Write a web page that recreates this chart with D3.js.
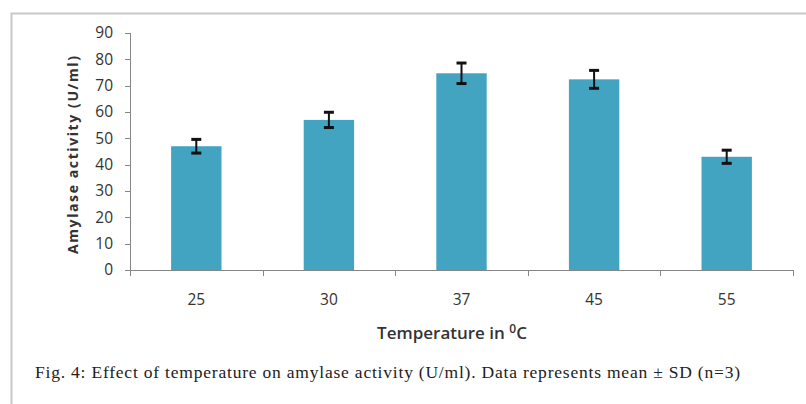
<!DOCTYPE html>
<html>
<head>
<meta charset="utf-8">
<style>
body{
  margin: 0;
  background-color: white;
}
.axis path, .axis line{
  stroke: #868686;
  shape-rendering: crispEdges;
}
.axis text{
  font-family: "Open Sans", "DejaVu Sans", sans-serif;
  font-size: 15.5px;
  fill: #333;
}
</style>
</head>
<body>
<script src="https://cdn.jsdelivr.net/npm/d3@7/dist/d3.min.js"></script>
<script>
  var WIDTH = 806;
  var HEIGHT = 404;

  var categories = ["25", "30", "37", "45", "55"];
  var means = [47, 57, 74.7, 72.4, 43];
  var sds = [2.6, 2.9, 3.9, 3.4, 2.5];
  var yTicks = [0, 10, 20, 30, 40, 50, 60, 70, 80, 90];

  var data = categories.map((c, i) => ({cat: c, mean: means[i], sd: sds[i]}));

  var xScale = d3.scaleBand()
    .domain(categories)
    .range([130, 793])
    .paddingInner(0.62)
    .paddingOuter(0.31);

  var yScale = d3.scaleLinear()
    .domain([0, 90])
    .range([270, 33]);

  var svg = d3.select("body").append("svg")
    .attr("width", WIDTH)
    .attr("height", HEIGHT);

  // frame
  svg.append("path")
    .attr("d", "M11.5,404 V13.5 H806")
    .attr("fill", "none")
    .attr("stroke", "#c8c8c8")
    .attr("stroke-width", 2);

  // y axis
  svg.append("g")
    .attr("class", "axis")
    .attr("transform", "translate(130,0)")
    .call(d3.axisLeft(yScale).tickValues(yTicks).tickSize(5).tickSizeOuter(5).tickPadding(12));

  // x axis with ticks at category boundaries
  var step = xScale.step();
  var bounds = d3.range(categories.length + 1).map(i => 130 + i * step);
  var xAxis = svg.append("g")
    .attr("class", "axis");
  xAxis.append("line")
    .attr("x1", 130).attr("x2", 793)
    .attr("y1", yScale(0) + 0.5).attr("y2", yScale(0) + 0.5);
  xAxis.selectAll("line.tick")
    .data(bounds)
    .enter()
    .append("line")
      .attr("class", "tick")
      .attr("x1", d => Math.round(d) + 0.5).attr("x2", d => Math.round(d) + 0.5)
      .attr("y1", yScale(0)).attr("y2", yScale(0) + 6);
  xAxis.selectAll("text")
    .data(categories)
    .enter()
    .append("text")
      .attr("x", d => xScale(d) + xScale.bandwidth() / 2)
      .attr("y", 305)
      .attr("text-anchor", "middle")
      .text(d => d);

  // bars
  svg.selectAll("rect.bar")
    .data(data)
    .enter()
    .append("rect")
      .attr("class", "bar")
      .attr("x", d => xScale(d.cat))
      .attr("y", d => yScale(d.mean))
      .attr("width", xScale.bandwidth())
      .attr("height", d => yScale(0) - yScale(d.mean))
      .attr("fill", "#43a4c2");

  // error bars
  var err = svg.append("g")
    .attr("stroke", "#111")
    .attr("stroke-width", 2);
  data.forEach(d => {
    var cx = xScale(d.cat) + xScale.bandwidth() / 2;
    var top = yScale(d.mean + d.sd);
    var bot = yScale(d.mean - d.sd);
    err.append("line").attr("x1", cx).attr("x2", cx).attr("y1", top).attr("y2", bot);
    err.append("line").attr("x1", cx - 5).attr("x2", cx + 5).attr("y1", top).attr("y2", top).attr("stroke-width", 3);
    err.append("line").attr("x1", cx - 5).attr("x2", cx + 5).attr("y1", bot).attr("y2", bot).attr("stroke-width", 3);
  });

  // axis titles
  svg.append("text")
    .attr("transform", "translate(78,155) rotate(-90)")
    .attr("text-anchor", "middle")
    .attr("textLength", 198)
    .attr("lengthAdjust", "spacing")
    .style("font-family", "'Open Sans', 'DejaVu Sans', sans-serif")
    .style("font-size", "14px")
    .style("font-weight", "bold")
    .style("fill", "#333")
    .text("Amylase activity (U/ml)");

  var xt = svg.append("text")
    .attr("x", 452)
    .attr("y", 339)
    .attr("text-anchor", "middle")
    .style("font-family", "'Open Sans', 'DejaVu Sans', sans-serif")
    .style("font-size", "17px")
    .style("font-weight", "600")
    .style("fill", "#333");
  xt.append("tspan").text("Temperature in ");
  xt.append("tspan").attr("dy", -6).style("font-size", "12px").text("0");
  xt.append("tspan").attr("dy", 6).text("C");

  // caption
  svg.append("text")
    .attr("x", 35)
    .attr("y", 378)
    .attr("textLength", 705)
    .attr("lengthAdjust", "spacing")
    .style("font-family", "'Liberation Serif', serif")
    .style("font-size", "17.5px")
    .style("fill", "#222")
    .text("Fig. 4: Effect of temperature on amylase activity (U/ml). Data represents mean ± SD (n=3)");
</script>
</body>
</html>
